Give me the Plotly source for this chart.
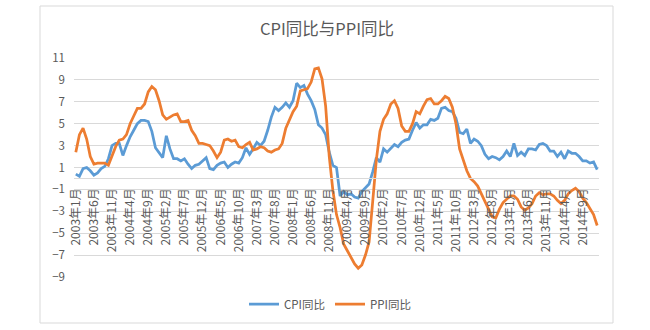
import plotly.graph_objects as go

months = [f"{y}年{m}月" for y in range(2003, 2015) for m in range(1, 13)] + ["2015年1月"]

cpi = [
    0.4, 0.2, 0.9, 1.0, 0.7, 0.3, 0.5, 0.9, 1.1, 1.8, 3.0, 3.2,
    3.2, 2.1, 3.0, 3.8, 4.4, 5.0, 5.3, 5.3, 5.2, 4.3, 2.8, 2.4,
    1.9, 3.9, 2.7, 1.8, 1.8, 1.6, 1.8, 1.3, 0.9, 1.2, 1.3, 1.6,
    1.9, 0.9, 0.8, 1.2, 1.4, 1.5, 1.0, 1.3, 1.5, 1.4, 1.9, 2.8,
    2.2, 2.7, 3.3, 3.0, 3.4, 4.4, 5.6, 6.5, 6.2, 6.5, 6.9, 6.5,
    7.1, 8.7, 8.3, 8.5, 7.7, 7.1, 6.3, 4.9, 4.6, 4.0, 2.4, 1.2,
    1.0, -1.6, -1.2, -1.5, -1.4, -1.7, -1.8, -1.2, -0.8, -0.5, 0.6, 1.9,
    1.5, 2.7, 2.4, 2.8, 3.1, 2.9, 3.3, 3.5, 3.6, 4.4, 5.1, 4.6,
    4.9, 4.9, 5.4, 5.3, 5.5, 6.4, 6.5, 6.2, 6.1, 5.5, 4.2, 4.1,
    4.5, 3.2, 3.6, 3.4, 3.0, 2.2, 1.8, 2.0, 1.9, 1.7, 2.0, 2.5,
    2.0, 3.2, 2.1, 2.4, 2.1, 2.7, 2.7, 2.6, 3.1, 3.2, 3.0, 2.5,
    2.5, 2.0, 2.4, 1.8, 2.5, 2.3, 2.3, 2.0, 1.6, 1.6, 1.4, 1.5,
    0.8,
]

ppi = [
    2.4, 4.0, 4.6, 3.6, 2.0, 1.3, 1.4, 1.4, 1.4, 1.2, 2.0, 2.9,
    3.5, 3.6, 4.0, 5.0, 5.7, 6.4, 6.4, 6.8, 7.9, 8.4, 8.1, 7.1,
    5.8, 5.4, 5.6, 5.8, 5.9, 5.2, 5.2, 5.3, 4.4, 3.9, 3.2, 3.2,
    3.1, 3.0, 2.5, 1.9, 2.4, 3.5, 3.6, 3.4, 3.5, 2.9, 2.8, 3.1,
    3.3, 2.6, 2.7, 2.9, 2.8, 2.5, 2.4, 2.6, 2.7, 3.2, 4.6, 5.4,
    6.1, 6.6, 8.0, 8.1, 8.2, 8.8, 10.0, 10.1, 9.1, 6.6, 2.0, -1.1,
    -3.3, -4.5, -6.0, -6.6, -7.2, -7.8, -8.2, -7.9, -7.0, -5.8, -2.1, 1.7,
    4.3, 5.4, 5.9, 6.8, 7.1, 6.4, 4.8, 4.3, 4.3, 5.0, 6.1, 5.9,
    6.6, 7.2, 7.3, 6.8, 6.8, 7.1, 7.5, 7.3, 6.5, 5.0, 2.7, 1.7,
    0.7, 0.0, -0.3, -0.7, -1.4, -2.1, -2.9, -3.5, -3.6, -2.8, -2.2, -1.9,
    -1.6, -1.6, -1.9, -2.6, -2.9, -2.7, -2.3, -1.6, -1.3, -1.5, -1.4, -1.4,
    -1.6, -2.0, -2.3, -2.0, -1.4, -1.1, -0.9, -1.2, -1.8, -2.2, -2.7, -3.3,
    -4.3,
]

tick_labels = months[::5]
y_ticks = [-9, -7, -5, -3, -1, 1, 3, 5, 7, 9, 11]

FONT = "Noto Sans CJK SC, Noto Sans, sans-serif"
GREY = "#595959"

# plot area in pixels: x 74..599, y 58..277
W, H = 650, 330
L, R, T, B = 74, 51, 58, 53
pw, ph = W - L - R, H - T - B

def px_x(x):
    return (x - L) / pw

def px_y(y):
    return (H - B - y) / ph

fig = go.Figure()
fig.add_trace(go.Scatter(x=months, y=cpi, mode="lines", name="CPI同比",
                         line=dict(color="#5B9BD5", width=2.75)))
fig.add_trace(go.Scatter(x=months, y=ppi, mode="lines", name="PPI同比",
                         line=dict(color="#ED7D31", width=2.75)))

zero_pos = (0 - (-9)) / (11 - (-9))

fig.update_layout(
    width=W, height=H,
    margin=dict(l=L, r=R, t=T, b=B),
    paper_bgcolor="white", plot_bgcolor="white",
    font=dict(family=FONT, color=GREY, size=11),
    title=dict(text="CPI同比与PPI同比", x=327 / W, xref="container", xanchor="center",
               y=1 - 29 / H, yref="container", yanchor="middle",
               font=dict(size=16.5, color=GREY, family=FONT)),
    showlegend=True,
    legend=dict(orientation="h", x=px_x(330), y=px_y(304), xanchor="center", yanchor="middle",
                font=dict(size=11.5, color=GREY), bgcolor="rgba(0,0,0,0)"),
    xaxis=dict(type="category", range=[-0.5, len(months) - 0.5],
               tickmode="array", tickvals=tick_labels, ticktext=tick_labels,
               tickangle=-90, tickfont=dict(size=12, color=GREY),
               showgrid=False, showline=True, linecolor="#D9D9D9", linewidth=1,
               ticks="", anchor="free", position=zero_pos, ticklabelstandoff=4),
    yaxis=dict(range=[-9, 11], tickmode="array", tickvals=y_ticks,
               showgrid=True, gridcolor="#D9D9D9", gridwidth=1,
               zeroline=False, showline=False, ticks="",
               tickfont=dict(size=11.5, color=GREY), ticklabelstandoff=8),
    shapes=[dict(type="rect", xref="paper", yref="paper",
                 x0=px_x(40), x1=px_x(613), y0=px_y(323), y1=px_y(6),
                 line=dict(color="#D9D9D9", width=1), layer="below")],
)

fig.write_html("out.html")
